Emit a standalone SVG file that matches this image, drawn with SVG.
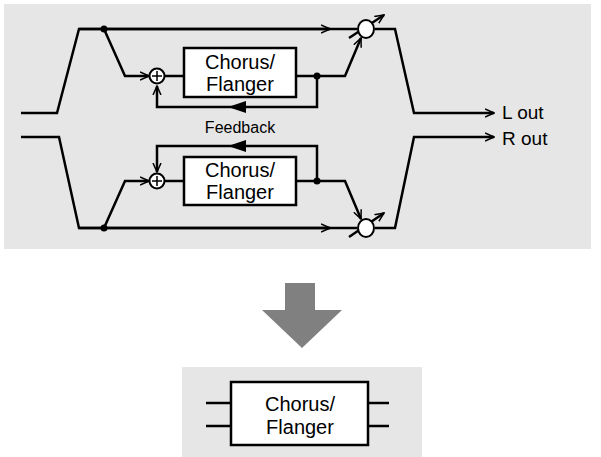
<svg xmlns="http://www.w3.org/2000/svg" width="601" height="457" viewBox="0 0 601 457">
<defs>
<style>
.w{fill:none;stroke:#000;stroke-width:2.5;stroke-linejoin:miter}
.t{font-family:"Liberation Sans",Arial,sans-serif;fill:#000}
.box{fill:#fff;stroke:#000;stroke-width:2.5}
.c{fill:#fff;stroke:#000;stroke-width:2}
</style>
<marker id="open" viewBox="0 0 10 10" refX="9" refY="5" markerWidth="10" markerHeight="10" markerUnits="userSpaceOnUse" orient="auto"><path d="M0,1 L9,5 L0,9" fill="none" stroke="#000" stroke-width="1.5"/></marker>
</defs>
<rect x="4" y="4" width="587" height="245" fill="#e6e6e6"/>
<rect x="182" y="367" width="240" height="90" fill="#e6e6e6"/>
<g id="connectors">
<path class="w" d="M21,113 H57 L79,29 H357"/>
<path class="w" d="M79,29 H330" marker-end="url(#open)"/>
<path class="w" d="M375,29 H395 L414,113 H494" marker-end="url(#open)"/>
<path class="w" d="M21,137 H59 L79,228 H357"/>
<path class="w" d="M79,228 H330" marker-end="url(#open)"/>
<path class="w" d="M375,228 H395 L414,137 H494" marker-end="url(#open)"/>
<path class="w" d="M104,29 L125,76 H149" marker-end="url(#open)"/>
<path class="w" d="M164,76 H184"/>
<path class="w" d="M296,76 H345 L361,38" marker-end="url(#open)"/>
<path class="w" d="M317,76 V107 H157 V86" marker-end="url(#open)"/>
<path class="w" d="M104,228 L125,181 H149" marker-end="url(#open)"/>
<path class="w" d="M164,181 H184"/>
<path class="w" d="M296,181 H345 L361,219" marker-end="url(#open)"/>
<path class="w" d="M317,181 V146 H157 V172" marker-end="url(#open)"/>
<path d="M228,107 L246,101 V113 Z"/>
<path d="M228,146 L246,140 V152 Z"/>
<path class="w" d="M206,403 H231 M206,426 H231 M368,403 H389 M368,426 H389"/>
</g>
<g id="dots"><circle cx="104" cy="29" r="3.5"/><circle cx="104" cy="228" r="3.5"/><circle cx="317" cy="76" r="3.5"/><circle cx="317" cy="181" r="3.5"/></g>
<g id="mixL"><path class="w" d="M349,38 L384,15" marker-end="url(#open)"/><ellipse class="c" cx="366" cy="29" rx="8" ry="9"/></g>
<g id="mixR"><path class="w" d="M349,237 L384,213" marker-end="url(#open)"/><ellipse class="c" cx="366" cy="228" rx="8" ry="9"/></g>
<g id="plusL"><circle class="c" cx="157" cy="76" r="7.5"/><path d="M152,76 H162 M157,71 V81" stroke="#000" stroke-width="1.5"/></g>
<g id="plusR"><circle class="c" cx="157" cy="181" r="7.5"/><path d="M152,181 H162 M157,176 V186" stroke="#000" stroke-width="1.5"/></g>
<g id="boxL"><rect class="box" x="184" y="48" width="112" height="49"/><text class="t" x="240" y="69" font-size="20" text-anchor="middle">Chorus/</text><text class="t" x="240" y="91" font-size="20" text-anchor="middle">Flanger</text></g>
<g id="boxR"><rect class="box" x="184" y="157" width="112" height="48"/><text class="t" x="240" y="177" font-size="20" text-anchor="middle">Chorus/</text><text class="t" x="240" y="199" font-size="20" text-anchor="middle">Flanger</text></g>
<text class="t" x="240" y="133" font-size="16" text-anchor="middle">Feedback</text>
<text class="t" x="502" y="119" font-size="19">L out</text>
<text class="t" x="502" y="145" font-size="19">R out</text>
<g id="bigArrow"><path d="M285,283 H315 V310 H342 L302,348 L262,310 H285 Z" fill="#808080"/></g>
<g id="boxOut"><rect class="box" x="231" y="382" width="137" height="63"/><text class="t" x="300" y="411" font-size="20" text-anchor="middle">Chorus/</text><text class="t" x="300" y="434" font-size="20" text-anchor="middle">Flanger</text></g>
</svg>
